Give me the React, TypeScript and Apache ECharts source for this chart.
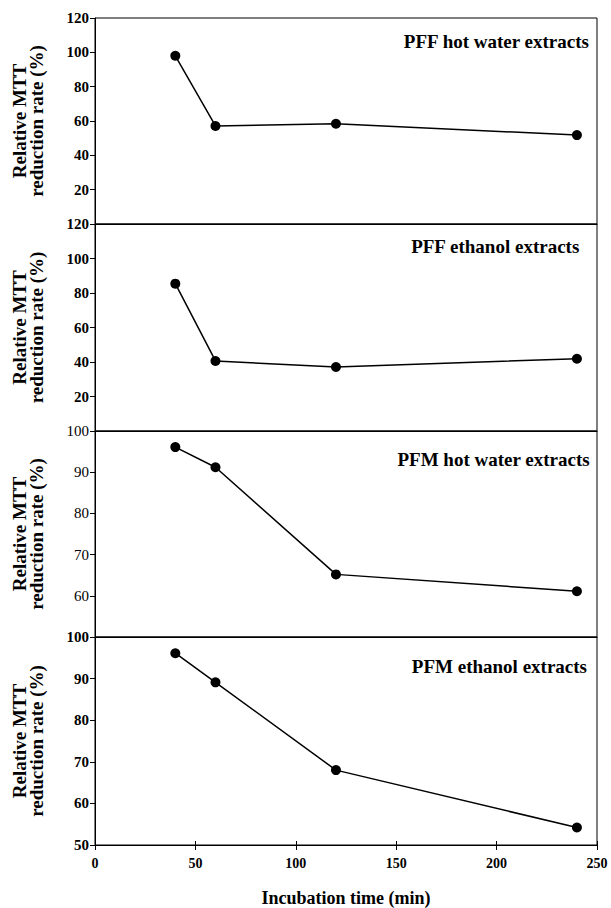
import React, { useEffect, useRef } from "react";
import * as echarts from "echarts";

const times = [40, 60, 120, 240];
const pffHotWater = [98, 57.1, 58.4, 51.8];
const pffEthanol = [85.4, 40.6, 37.1, 41.9];
const pfmHotWater = [96.1, 91.2, 65.2, 61.1];
const pfmEthanol = [96.1, 89.1, 68, 54.2];

const panelTitles = [
  "PFF hot water extracts",
  "PFF ethanol extracts",
  "PFM hot water extracts",
  "PFM ethanol extracts",
];
const yRanges = [
  { min: 0, max: 120, interval: 20 },
  { min: 0, max: 120, interval: 20 },
  { min: 50, max: 100, interval: 10 },
  { min: 50, max: 100, interval: 10 },
];
const xTicks = { min: 0, max: 250, interval: 50 };
const xName = "Incubation time (min)";
const yName = "Relative MTT\nreduction rate (%)";

export default function App() {
  const ref = useRef<HTMLDivElement>(null);
  useEffect(() => {
    if (!ref.current) return;
    const chart = echarts.init(ref.current, null, { renderer: "svg" });
    const font = "Liberation Serif";
    const tops = [18, 224, 431, 637];
    const heights = [206, 207, 206, 210];
    const series = [pffHotWater, pffEthanol, pfmHotWater, pfmEthanol];
    const titleTops = [32, 237, 450, 657];
    const titleRights = [21, 31, 21, 24];

    const grid = tops.map((t, i) => ({
      left: 95,
      right: 14,
      top: t,
      height: heights[i],
      show: true,
      borderColor: "#000",
      borderWidth: 1,
      backgroundColor: "transparent",
    }));

    const xAxis: any[] = tops.map((_, i) => ({
      type: "value",
      gridIndex: i,
      min: xTicks.min,
      max: xTicks.max,
      interval: xTicks.interval,
      position: "bottom",
      axisLine: { show: true, lineStyle: { color: "#000", width: 1 } },
      axisTick: { show: i === 3, length: 5, lineStyle: { color: "#000" } },
      axisLabel: {
        show: i === 3,
        color: "#000",
        fontFamily: font,
        fontWeight: "bold",
        fontSize: 14,
        margin: 11,
      },
      splitLine: { show: false },
      name: i === 3 ? xName : "",
      nameLocation: "middle",
      nameGap: 44,
      nameTextStyle: {
        color: "#000",
        fontFamily: font,
        fontWeight: "bold",
        fontSize: 18,
      },
    }));
    // inward ticks on the bottom axis
    xAxis.push({
      type: "value",
      gridIndex: 3,
      min: xTicks.min,
      max: xTicks.max,
      interval: xTicks.interval,
      position: "bottom",
      axisLine: { show: false },
      axisTick: { show: true, inside: true, length: 4, lineStyle: { color: "#000" } },
      axisLabel: { show: false },
      splitLine: { show: false },
    });

    const yAxis = yRanges.map((r, i) => ({
      type: "value",
      gridIndex: i,
      min: r.min,
      max: r.max,
      interval: r.interval,
      axisLine: { show: true, lineStyle: { color: "#000", width: 1 } },
      axisTick: { show: true, length: 5, lineStyle: { color: "#000" } },
      axisLabel: {
        color: "#000",
        fontFamily: font,
        fontWeight: i === 2 ? "normal" : "bold",
        fontSize: 15,
        margin: 6,
        showMinLabel: i === 3,
      },
      splitLine: { show: false },
      name: yName,
      nameLocation: "middle",
      nameRotate: 90,
      nameGap: 50,
      nameTextStyle: {
        color: "#000",
        fontFamily: font,
        fontWeight: "bold",
        fontSize: 19,
        lineHeight: 17,
      },
    }));

    const title = panelTitles.map((t, i) => ({
      text: t,
      right: titleRights[i],
      top: titleTops[i],
      padding: 0,
      textStyle: {
        color: "#000",
        fontFamily: font,
        fontWeight: "bold",
        fontSize: 19,
      },
    }));

    chart.setOption({
      animation: false,
      backgroundColor: "#fff",
      title,
      grid,
      xAxis,
      yAxis,
      series: series.map((vals, i) => ({
        type: "line",
        xAxisIndex: i,
        yAxisIndex: i,
        data: times.map((t, j) => [t, vals[j]]),
        symbol: "circle",
        symbolSize: 10,
        lineStyle: { color: "#000", width: 1.5 },
        itemStyle: { color: "#000" },
      })),
    });
    return () => chart.dispose();
  }, []);
  return (
    <div
      ref={ref}
      style={{ position: "fixed", left: 0, top: 0, width: 611, height: 908 }}
    />
  );
}
